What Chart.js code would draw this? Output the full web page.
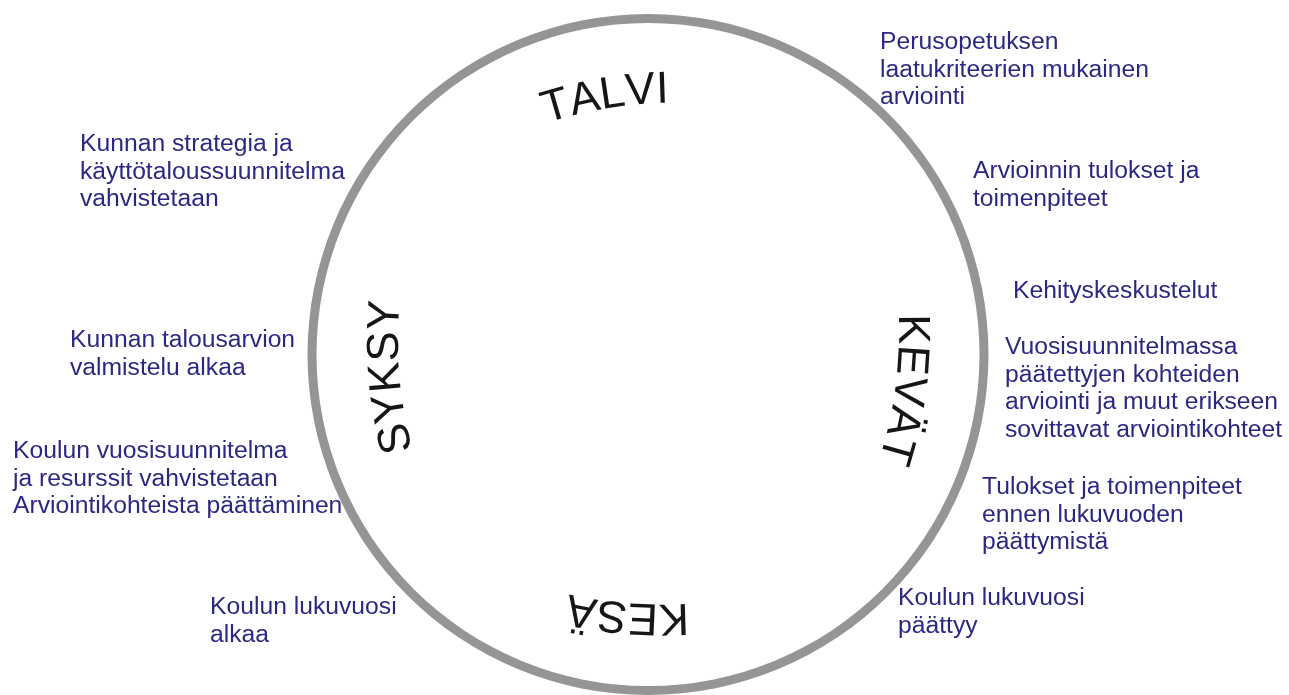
<!DOCTYPE html>
<html>
<head>
<meta charset="utf-8">
<script src="https://cdn.jsdelivr.net/npm/chart.js@4/dist/chart.umd.min.js"></script>
<style>
  html, body { margin: 0; padding: 0; background: #ffffff; }
  #wrap { position: relative; width: 1289px; height: 695px; }
</style>
</head>
<body>
<div id="wrap"><canvas id="c"></canvas></div>
<script>
// ---- data ----
const ringValues = [1];
const seasons = ['TALVI', 'KEVÄT', 'KESÄ', 'SYKSY'];
const seasonAngles = [-99.5, 7.7, 94.5, 175]; // degrees, clockwise from the right

const notes = [
  ['Perusopetuksen', 'laatukriteerien mukainen', 'arviointi'],
  ['Arvioinnin tulokset ja', 'toimenpiteet'],
  ['Kehityskeskustelut'],
  ['Vuosisuunnitelmassa', 'päätettyjen kohteiden', 'arviointi ja muut erikseen', 'sovittavat arviointikohteet'],
  ['Tulokset ja toimenpiteet', 'ennen lukuvuoden', 'päättymistä'],
  ['Koulun lukuvuosi', 'päättyy'],
  ['Koulun lukuvuosi', 'alkaa'],
  ['Kunnan strategia ja', 'käyttötaloussuunnitelma', 'vahvistetaan'],
  ['Kunnan talousarvion', 'valmistelu alkaa'],
  ['Koulun vuosisuunnitelma', 'ja resurssit vahvistetaan', 'Arviointikohteista päättäminen']
];

// ---- layout (positions of the text blocks: left x, first baseline y) ----
const noteLayout = [
  [880, 49], [973, 178], [1013, 298], [1005, 354], [982, 494],
  [898, 605], [210, 614], [80, 151], [70, 347], [13, 458]
];
const lineHeight = 27.6;

const textPlugin = {
  id: 'wheelText',
  afterDraw(chart) {
    const ctx = chart.ctx;
    const arc = chart.getDatasetMeta(0).data[0];
    const cx = arc.x, cy = arc.y;
    const r = arc.innerRadius - 82;   // baseline radius of the season words
    const rc = 420;                    // curvature of the lettering

    // season labels along the ring
    ctx.save();
    ctx.fillStyle = '#161616';
    ctx.font = '45px "Liberation Sans", Arial, sans-serif';
    ctx.textAlign = 'center';
    ctx.textBaseline = 'alphabetic';
    seasons.forEach((word, i) => {
      const chars = Array.from(word);
      const widths = chars.map(ch => ctx.measureText(ch).width);
      const total = widths.reduce((a, b) => a + b, 0);
      const mid = seasonAngles[i] * Math.PI / 180;
      const px = cx + r * Math.cos(mid), py = cy + r * Math.sin(mid);
      const ox = px - rc * Math.cos(mid), oy = py - rc * Math.sin(mid);
      let offset = -total / 2;
      chars.forEach((ch, k) => {
        const a = mid + (offset + widths[k] / 2) / rc;
        ctx.save();
        ctx.translate(ox + rc * Math.cos(a), oy + rc * Math.sin(a));
        ctx.rotate(a + Math.PI / 2);
        ctx.fillText(ch, 0, 0);
        ctx.restore();
        offset += widths[k];
      });
    });
    ctx.restore();

    // annotation blocks
    ctx.save();
    ctx.fillStyle = '#2c2782';
    ctx.font = '24.7px "Liberation Sans", Arial, sans-serif';
    ctx.textAlign = 'left';
    ctx.textBaseline = 'alphabetic';
    notes.forEach((lines, i) => {
      const [x, y] = noteLayout[i];
      lines.forEach((line, j) => ctx.fillText(line, x, y + j * lineHeight));
    });
    ctx.restore();
  }
};

new Chart(document.getElementById('c'), {
  type: 'doughnut',
  data: {
    labels: ['vuosikello'],
    datasets: [{
      data: ringValues,
      backgroundColor: '#959595',
      borderWidth: 0,
      hoverOffset: 0
    }]
  },
  options: {
    responsive: true,
    maintainAspectRatio: false,
    animation: false,
    events: [],
    cutout: 331.5,
    layout: { padding: { left: 7, top: 14, right: 0, bottom: 0 } },
    plugins: { legend: { display: false }, tooltip: { enabled: false } }
  },
  plugins: [textPlugin]
});
</script>
</body>
</html>
